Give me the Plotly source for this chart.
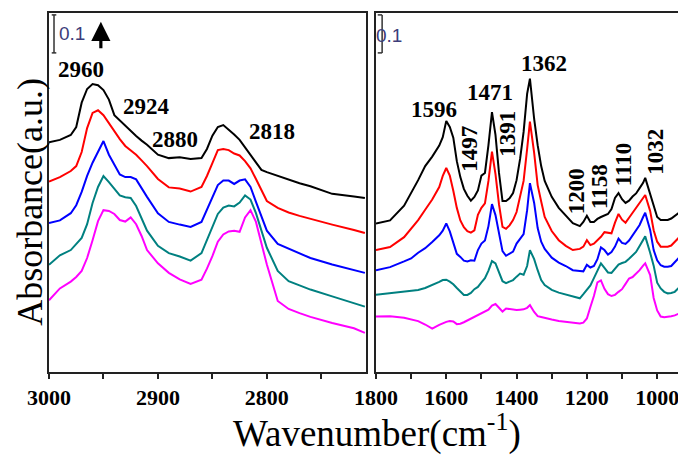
import plotly.graph_objects as go

# ---------------- data ----------------
# Left panel: 3000-2710 cm-1
wn_left = [3000, 2990, 2980, 2975, 2970, 2965, 2960, 2955, 2950, 2945, 2940, 2935, 2930, 2925,
           2920, 2915, 2910, 2900, 2890, 2880, 2870, 2860, 2855, 2850, 2845, 2840, 2835, 2830,
           2825, 2820, 2815, 2810, 2805, 2800, 2790, 2780, 2770, 2760, 2740, 2720, 2710]
black_left = [0.605, 0.611, 0.624, 0.645, 0.709, 0.745, 0.758, 0.755, 0.742, 0.717, 0.676, 0.662,
              0.647, 0.634, 0.621, 0.609, 0.598, 0.572, 0.563, 0.565, 0.561, 0.563, 0.587, 0.622,
              0.645, 0.650, 0.638, 0.625, 0.611, 0.592, 0.571, 0.551, 0.532, 0.526, 0.516, 0.506,
              0.497, 0.489, 0.469, 0.462, 0.458]
red_left = [0.501, 0.513, 0.529, 0.542, 0.579, 0.642, 0.682, 0.689, 0.676, 0.655, 0.632, 0.613,
            0.595, 0.584, 0.572, 0.557, 0.542, 0.508, 0.486, 0.483, 0.475, 0.487, 0.516, 0.550,
            0.584, 0.587, 0.584, 0.575, 0.570, 0.555, 0.536, 0.508, 0.479, 0.450, 0.432, 0.420,
            0.411, 0.403, 0.388, 0.374, 0.366]
blue_left = [0.392, 0.399, 0.418, 0.439, 0.474, 0.516, 0.551, 0.579, 0.608, 0.572, 0.545, 0.520,
             0.513, 0.513, 0.507, 0.482, 0.461, 0.418, 0.395, 0.388, 0.382, 0.395, 0.429, 0.458,
             0.492, 0.504, 0.504, 0.495, 0.504, 0.507, 0.487, 0.448, 0.411, 0.372, 0.337, 0.324,
             0.311, 0.300, 0.283, 0.268, 0.261]
teal_left = [0.282, 0.307, 0.321, 0.336, 0.353, 0.389, 0.445, 0.487, 0.516, 0.500, 0.482, 0.465,
             0.460, 0.458, 0.437, 0.405, 0.372, 0.332, 0.313, 0.304, 0.293, 0.313, 0.347, 0.383,
             0.416, 0.433, 0.438, 0.436, 0.446, 0.465, 0.454, 0.418, 0.371, 0.327, 0.266, 0.239,
             0.228, 0.217, 0.199, 0.180, 0.172]
magenta_left = [0.189, 0.220, 0.238, 0.250, 0.266, 0.300, 0.347, 0.397, 0.426, 0.424, 0.416, 0.400,
                0.396, 0.407, 0.389, 0.358, 0.321, 0.286, 0.261, 0.244, 0.232, 0.243, 0.272, 0.305,
                0.343, 0.362, 0.370, 0.372, 0.369, 0.407, 0.426, 0.395, 0.339, 0.283, 0.187, 0.166,
                0.155, 0.145, 0.129, 0.115, 0.103]

# Right panel: 1800-918 cm-1
wn_right = [1800, 1760, 1720, 1700, 1680, 1660, 1640, 1620, 1610, 1600,
            1590, 1580, 1570, 1560, 1550, 1540, 1530, 1520, 1510, 1500,
            1490, 1480, 1470, 1460, 1450, 1440, 1430, 1420, 1410, 1400,
            1390, 1380, 1370, 1362, 1350, 1340, 1330, 1320, 1300, 1280,
            1260, 1240, 1220, 1210, 1200, 1190, 1180, 1170, 1160, 1150,
            1140, 1130, 1120, 1110, 1100, 1090, 1080, 1070, 1060, 1050,
            1040, 1034, 1020, 1010, 1000, 990, 980, 970, 960, 950,
            940, 930, 918]
black_right = [0.391, 0.399, 0.438, 0.471, 0.505, 0.542, 0.567, 0.596, 0.618, 0.661,
               0.645, 0.617, 0.555, 0.513, 0.482, 0.464, 0.451, 0.461, 0.478, 0.517,
               0.524, 0.597, 0.684, 0.624, 0.524, 0.450, 0.450, 0.457, 0.471, 0.505,
               0.561, 0.632, 0.732, 0.772, 0.666, 0.597, 0.542, 0.503, 0.461, 0.432,
               0.411, 0.392, 0.384, 0.395, 0.411, 0.395, 0.395, 0.403, 0.408, 0.412,
               0.416, 0.429, 0.458, 0.471, 0.455, 0.445, 0.451, 0.462, 0.470, 0.484,
               0.498, 0.511, 0.467, 0.437, 0.408, 0.400, 0.400, 0.400, 0.404, 0.411,
               0.418, 0.413, 0.408]
red_right = [0.321, 0.329, 0.355, 0.377, 0.400, 0.427, 0.454, 0.487, 0.516, 0.537,
             0.517, 0.477, 0.432, 0.399, 0.381, 0.371, 0.367, 0.373, 0.414, 0.432,
             0.444, 0.503, 0.580, 0.521, 0.441, 0.382, 0.377, 0.386, 0.400, 0.421,
             0.462, 0.503, 0.587, 0.659, 0.577, 0.492, 0.449, 0.408, 0.371, 0.347,
             0.332, 0.321, 0.324, 0.330, 0.347, 0.334, 0.338, 0.346, 0.356, 0.368,
             0.367, 0.365, 0.393, 0.416, 0.401, 0.393, 0.406, 0.419, 0.433, 0.446,
             0.459, 0.466, 0.424, 0.373, 0.343, 0.330, 0.330, 0.330, 0.333, 0.343,
             0.352, 0.347, 0.343]
blue_right = [0.268, 0.276, 0.291, 0.299, 0.314, 0.326, 0.342, 0.360, 0.372, 0.391,
              0.370, 0.339, 0.311, 0.303, 0.293, 0.291, 0.294, 0.293, 0.321, 0.338,
              0.346, 0.384, 0.442, 0.413, 0.366, 0.318, 0.306, 0.312, 0.317, 0.338,
              0.351, 0.363, 0.426, 0.497, 0.445, 0.379, 0.343, 0.324, 0.301, 0.288,
              0.279, 0.268, 0.266, 0.265, 0.282, 0.275, 0.279, 0.297, 0.328, 0.321,
              0.309, 0.316, 0.330, 0.351, 0.340, 0.337, 0.346, 0.360, 0.372, 0.387,
              0.408, 0.419, 0.374, 0.321, 0.294, 0.281, 0.277, 0.277, 0.279, 0.288,
              0.299, 0.295, 0.289]
teal_right = [0.203, 0.207, 0.211, 0.213, 0.216, 0.221, 0.228, 0.237, 0.242, 0.243,
              0.238, 0.231, 0.221, 0.211, 0.203, 0.203, 0.208, 0.218, 0.224, 0.236,
              0.247, 0.267, 0.292, 0.286, 0.263, 0.239, 0.234, 0.237, 0.242, 0.251,
              0.259, 0.256, 0.279, 0.321, 0.297, 0.268, 0.242, 0.229, 0.216, 0.209,
              0.204, 0.200, 0.194, 0.205, 0.216, 0.228, 0.247, 0.268, 0.286, 0.274,
              0.262, 0.261, 0.272, 0.283, 0.287, 0.290, 0.298, 0.306, 0.316, 0.332,
              0.349, 0.357, 0.314, 0.280, 0.235, 0.220, 0.211, 0.207, 0.208, 0.211,
              0.220, 0.218, 0.216]
magenta_right = [0.146, 0.147, 0.143, 0.139, 0.134, 0.125, 0.114, 0.124, 0.129, 0.132,
                 0.134, 0.133, 0.126, 0.127, 0.131, 0.136, 0.141, 0.145, 0.149, 0.154,
                 0.159, 0.164, 0.175, 0.179, 0.169, 0.159, 0.167, 0.166, 0.164, 0.163,
                 0.164, 0.165, 0.169, 0.176, 0.158, 0.147, 0.145, 0.142, 0.138, 0.134,
                 0.132, 0.130, 0.128, 0.130, 0.141, 0.171, 0.200, 0.236, 0.241, 0.219,
                 0.205, 0.200, 0.203, 0.211, 0.218, 0.232, 0.246, 0.250, 0.259, 0.268,
                 0.280, 0.286, 0.255, 0.195, 0.162, 0.146, 0.144, 0.145, 0.147, 0.149,
                 0.153, 0.154, 0.153]

left_series = [black_left, red_left, blue_left, teal_left, magenta_left]
right_series = [black_right, red_right, blue_right, teal_right, magenta_right]
series_colors = ["#000000", "#FF0000", "#0000FF", "#008080", "#FF00FF"]

# peak labels: (text, wavenumber position, absorbance position, rotated)
left_labels = [("2960", 2970.5, 0.797, False), ("2924", 2910.6, 0.700, False),
               ("2880", 2883.9, 0.613, False), ("2818", 2795.4, 0.632, False)]
right_labels = [("1596", 1635.2, 0.692, False), ("1471", 1475.6, 0.737, False),
                ("1362", 1323.1, 0.813, False), ("1497", 1534.0, 0.589, True),
                ("1391", 1425.7, 0.626, True), ("1200", 1230.4, 0.476, True),
                ("1158", 1163.5, 0.489, True), ("1110", 1093.6, 0.545, True),
                ("1032", 1006.7, 0.579, True)]

SERIF = "Liberation Serif, Times New Roman, serif"

fig = go.Figure()
for ys, c in zip(left_series, series_colors):
    fig.add_trace(go.Scatter(x=wn_left, y=ys, mode="lines", line=dict(color=c, width=2),
                             xaxis="x", yaxis="y", hoverinfo="skip"))
for ys, c in zip(right_series, series_colors):
    fig.add_trace(go.Scatter(x=wn_right, y=ys, mode="lines", line=dict(color=c, width=2),
                             xaxis="x2", yaxis="y2", hoverinfo="skip"))

axis_common = dict(showgrid=False, zeroline=False, showline=True, linecolor="#222222",
                   linewidth=1.5)
tickfont = dict(family=SERIF, size=22, color="black", weight=700)

# the page body has an 8px margin, so the figure is 8px smaller than the window
fig.update_layout(
    width=678, height=447,
    margin=dict(l=41, r=0, t=5, b=83),
    paper_bgcolor="white", plot_bgcolor="white",
    showlegend=False,
    xaxis=dict(domain=[0, 0.4976], range=[3000, 2709], tick0=3000, dtick=100,
               ticks="outside", ticklen=5, tickwidth=1.5, tickcolor="#222222",
               minor=dict(dtick=50, ticks="outside", ticklen=5, tickwidth=1.5,
                          tickcolor="#222222", showgrid=False),
               mirror=True, tickfont=tickfont, anchor="y", **axis_common),
    yaxis=dict(domain=[0, 1], range=[0, 0.945], showticklabels=False, ticks="",
               mirror=True, anchor="x", **axis_common),
    xaxis2=dict(domain=[0.5133, 1], range=[1800, 918], tick0=1800, dtick=200,
                ticks="outside", ticklen=5, tickwidth=1.5, tickcolor="#222222",
                minor=dict(dtick=100, ticks="outside", ticklen=5, tickwidth=1.5,
                           tickcolor="#222222", showgrid=False),
                mirror=True, tickfont=tickfont, anchor="y2", **axis_common),
    yaxis2=dict(domain=[0, 1], range=[0, 0.945], showticklabels=False, ticks="",
                mirror=False, anchor="x2", **axis_common),
)

annotations = []
for text, x, y, rot in left_labels:
    annotations.append(dict(x=x, y=y, xref="x", yref="y", text="<b>%s</b>" % text,
                            showarrow=False, textangle=-90 if rot else 0,
                            font=dict(family=SERIF, size=23, color="black")))
for text, x, y, rot in right_labels:
    annotations.append(dict(x=x, y=y, xref="x2", yref="y2", text="<b>%s</b>" % text,
                            showarrow=False, textangle=-90 if rot else 0,
                            font=dict(family=SERIF, size=23, color="black")))

# scale-bar captions
annotations.append(dict(x=2978.5, y=0.890, xref="x", yref="y", text="0.1", showarrow=False,
                        font=dict(family="Liberation Sans, Arial, sans-serif", size=19,
                                  color="#3d3d7a")))
annotations.append(dict(x=1764.0, y=0.886, xref="x2", yref="y2", text="0.1", showarrow=False,
                        font=dict(family="Liberation Sans, Arial, sans-serif", size=19,
                                  color="#3d3d7a")))
# upward arrow
annotations.append(dict(x=2952.4, y=0.922, xref="x", yref="y", text="", showarrow=True,
                        ax=0, ay=28, arrowhead=2, arrowsize=1.2, arrowwidth=3.2,
                        arrowcolor="black"))
# axis titles
annotations.append(dict(x=-0.0298, y=0.474, xref="paper", yref="paper",
                        text="Absorbance(a.u.)", textangle=-90, showarrow=False,
                        xanchor="center", yanchor="middle",
                        font=dict(family=SERIF, size=36, color="black")))
annotations.append(dict(x=0.515, y=-0.1643, xref="paper", yref="paper",
                        text="Wavenumber(cm<sup>-1</sup>)", showarrow=False,
                        xanchor="center", yanchor="middle",
                        font=dict(family=SERIF, size=37, color="black")))
fig.update_layout(annotations=annotations)

# scale bars (0.1 absorbance units)
bar = dict(color="#333333", width=1.5)
shapes = [
    dict(type="line", xref="x", yref="y", x0=2995.4, x1=2995.4, y0=0.84, y1=0.94, line=bar),
    dict(type="line", xref="x", yref="y", x0=2997.5, x1=2993.3, y0=0.84, y1=0.84, line=bar),
    dict(type="line", xref="x", yref="y", x0=2997.5, x1=2993.3, y0=0.94, y1=0.94, line=bar),
    dict(type="line", xref="x2", yref="y2", x0=1782.5, x1=1782.5, y0=0.84, y1=0.94, line=bar),
    dict(type="line", xref="x2", yref="y2", x0=1795.0, x1=1782.5, y0=0.84, y1=0.84, line=bar),
    dict(type="line", xref="x2", yref="y2", x0=1795.0, x1=1782.5, y0=0.94, y1=0.94, line=bar),
]
fig.update_layout(shapes=shapes)

fig.write_html("out.html")
